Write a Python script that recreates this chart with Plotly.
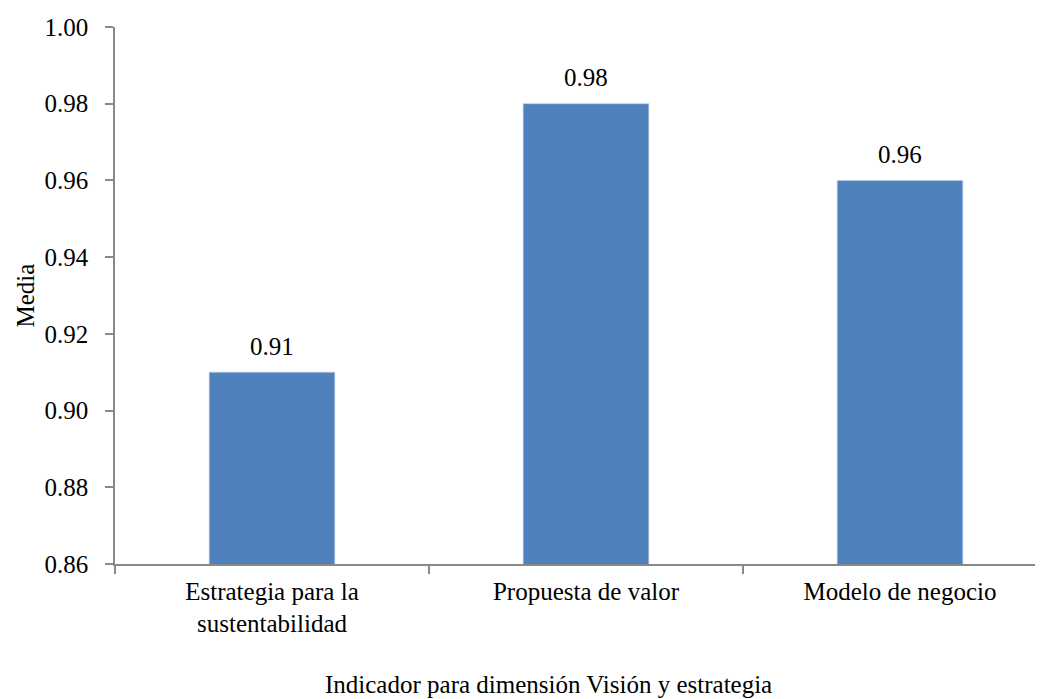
import plotly.graph_objects as go

categories = ["Estrategia para la<br>sustentabilidad", "Propuesta de valor", "Modelo de negocio"]
values = [0.91, 0.98, 0.96]
value_labels = ["0.91", "0.98", "0.96"]
y_ticks = [0.86, 0.88, 0.90, 0.92, 0.94, 0.96, 0.98, 1.00]
x_title = "Indicador para dimensión Visión y estrategia"
y_title = "Media"

FONT = "'Times New Roman', 'Liberation Serif', serif"
AXIS = "#898989"

# page has an 8px body margin; plot area spans x 115..1043+, y 27..564 in the window
OFF = 8
L, T = 115 - OFF, 27 - OFF
W, H = 1043 - OFF, 699 - OFF
PW, PH = W - L, 537

fig = go.Figure()
fig.add_trace(go.Bar(
    x=categories, y=values, width=0.4,
    marker=dict(color="#4F81BD", line=dict(color="#B9CDE5", width=0.6)),
    hoverinfo="skip",
))

for c, v, t in zip(categories, values, value_labels):
    fig.add_annotation(x=c, y=v, text=t, showarrow=False, xref="x", yref="y",
                       yanchor="middle", yshift=26,
                       font=dict(family=FONT, size=25, color="black"))

fig.add_annotation(x=(548 - 115) / PW, y=(564 - 684) / PH, xref="paper", yref="paper",
                   text=x_title, showarrow=False, xanchor="center", yanchor="middle",
                   font=dict(family=FONT, size=25, color="black"))
fig.add_annotation(x=(25 - 115) / PW, y=0.5, xref="paper", yref="paper",
                   text=y_title, showarrow=False, textangle=-90,
                   xanchor="center", yanchor="middle",
                   font=dict(family=FONT, size=25, color="black"))

fig.update_layout(
    width=W, height=H,
    margin=dict(l=L, r=0, t=T, b=H - T - PH),
    paper_bgcolor="white", plot_bgcolor="white",
    showlegend=False,
    font=dict(family=FONT, size=25, color="black"),
    xaxis=dict(
        type="category",
        range=[-0.5, -0.5 + PW / 314],
        showline=True, linecolor=AXIS, linewidth=1.5,
        ticks="outside", ticklen=8, tickcolor=AXIS, tickwidth=1.5,
        tickson="boundaries", showgrid=False, zeroline=False,
        ticklabelstandoff=4,
    ),
    yaxis=dict(
        range=[0.86, 1.00], tickmode="array", tickvals=y_ticks,
        ticktext=[f"{t:.2f}" for t in y_ticks],
        showline=True, linecolor=AXIS, linewidth=1.5,
        ticks="outside", ticklen=8, tickcolor=AXIS, tickwidth=1.5,
        showgrid=False, zeroline=False, ticklabelstandoff=12,
    ),
)

fig.write_html("out.html")
